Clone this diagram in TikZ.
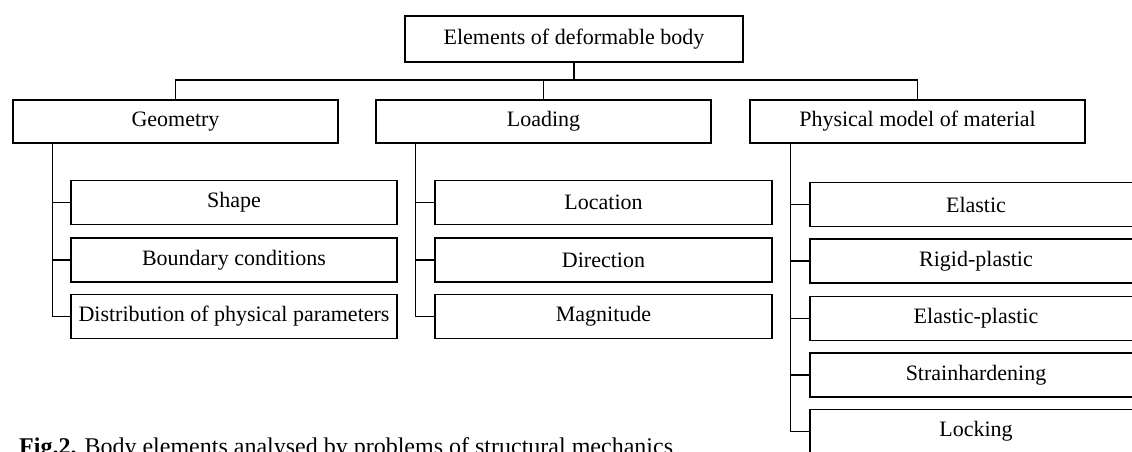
\documentclass[tikz,border=0pt]{standalone}
\usepackage{fontspec}
\setmainfont{Liberation Serif}
\usetikzlibrary{positioning}

\tikzset{
  box/.style={draw, line width=1.2pt, inner sep=0pt, font=\fontsize{22}{25}\selectfont},
  topbox/.style={box, line width=2.6pt, minimum width=338pt, minimum height=46pt},
  midbox/.style={box, minimum width=335pt, minimum height=43pt},
  subbox/.style={box, minimum height=44pt},
  link/.style={line width=1.2pt}
}

\begin{document}
\begin{tikzpicture}[x=1pt,y=-1pt]
\useasboundingbox (0,0) rectangle (1132,451);
\clip (0,0) rectangle (1132,451);

\node[topbox] (top) at (574,39) {Elements of deformable body};

\node[midbox, minimum width=325pt] (geo) at (175.5,121.5) {Geometry};
\node[midbox] (load) at (543.5,121.5) {Loading};
\node[midbox] (phys) at (917.5,121.5) {Physical model of material};

\coordinate (bus) at (0,80);
\draw[link] (top.south) -- (top.south |- bus);
\draw[link] (geo.north) -- (geo.north |- bus) -- (phys.north |- bus) -- (phys.north);
\draw[link] (load.north) -- (load.north |- bus);

% geometry
\node[subbox, minimum width=326pt] (geo1) at (234,202.5) {Shape};
\node[subbox, minimum width=326pt] (geo2) at (234,260) {Boundary conditions};
\node[subbox, minimum width=326pt] (geo3) at (234,316.5) {Distribution of physical parameters};

% loading
\node[subbox, minimum width=337pt] (load1) at (603.5,202.5) {Location};
\node[subbox, minimum width=337pt] (load2) at (603.5,260) {Direction};
\node[subbox, minimum width=337pt] (load3) at (603.5,316.5) {Magnitude};

% material
\node[subbox, minimum width=332pt] (phys1) at (976,204.5) {Elastic};
\node[subbox, minimum width=332pt] (phys2) at (976,261) {Rigid-plastic};
\node[subbox, minimum width=332pt] (phys3) at (976,318.5) {Elastic-plastic};
\node[subbox, minimum width=332pt] (phys4) at (976,375) {Strainhardening};
\node[subbox, minimum width=332pt] (phys5) at (976,431.5) {Locking};

\coordinate (gb) at ([xshift=40pt]geo.south west);
\coordinate (lb) at ([xshift=40pt]load.south west);
\coordinate (pb) at ([xshift=41pt]phys.south west);

\draw[link] (gb) |- (geo3.west);
\foreach \i in {1,2}
  \draw[link] (gb |- geo\i.west) -- (geo\i.west);

\draw[link] (lb) |- (load3.west);
\foreach \i in {1,2}
  \draw[link] (lb |- load\i.west) -- (load\i.west);

\draw[link] (pb) |- (phys5.west);
\foreach \i in {1,...,4}
  \draw[link] (pb |- phys\i.west) -- (phys\i.west);

\node[anchor=base west, inner sep=0pt, font=\fontsize{24}{27}\selectfont] (cap) at (19,454)
  {\textbf{Fig.2.} Body elements analysed by problems of structural mechanics};
\end{tikzpicture}
\end{document}
